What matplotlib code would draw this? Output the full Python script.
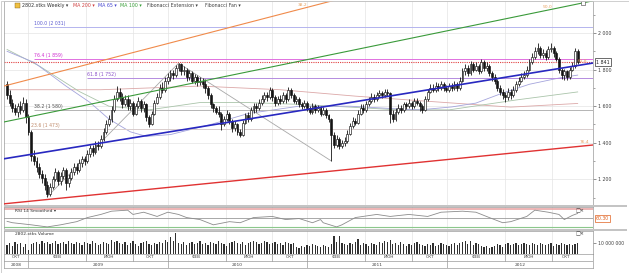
import matplotlib
matplotlib.use("Agg")
import matplotlib.pyplot as plt
import matplotlib.dates as mdates
from matplotlib.patches import Rectangle
import numpy as np
import pandas as pd

plt.rcParams["font.family"] = ["DejaVu Sans"]

# weekly candles of 2802.xtks, first week and OHLC
first_week = "2008-11-07"
opens = [1720,1660,1620,1590,1570,1600,1580,1620,1540,1460,
         1330,1300,1270,1230,1210,1170,1120,1160,1200,1240,
         1190,1220,1250,1180,1210,1240,1270,1250,1290,1310,
         1300,1340,1370,1350,1390,1380,1420,1460,1500,1530,
         1580,1640,1680,1650,1610,1640,1600,1620,1560,1600,
         1630,1590,1610,1540,1500,1560,1620,1650,1700,1690,
         1740,1760,1780,1770,1810,1830,1790,1800,1760,1780,
         1740,1760,1730,1740,1720,1700,1660,1610,1590,1570,
         1560,1500,1530,1560,1520,1480,1500,1460,1440,1510,
         1550,1530,1580,1600,1590,1620,1640,1660,1650,1690,
         1650,1620,1640,1630,1660,1640,1690,1660,1630,1640,
         1610,1600,1620,1590,1570,1600,1580,1590,1560,1580,
         1550,1530,1440,1390,1420,1380,1400,1410,1450,1490,
         1520,1510,1560,1590,1580,1610,1630,1650,1640,1660,
         1670,1660,1680,1670,1560,1530,1570,1590,1580,1610,
         1600,1620,1600,1630,1620,1600,1580,1640,1680,1700,
         1690,1710,1700,1720,1700,1690,1710,1700,1720,1700,
         1740,1790,1810,1780,1830,1800,1820,1790,1840,1810,
         1820,1780,1760,1740,1700,1680,1660,1650,1680,1660,
         1690,1720,1740,1760,1770,1800,1840,1870,1900,1920,
         1880,1890,1870,1910,1920,1890,1860,1800,1770,1790,
         1760,1800,1820,1900]
highs = [1740,1690,1640,1610,1620,1630,1650,1640,1560,1470,
         1360,1320,1290,1250,1230,1190,1180,1220,1262,1250,
         1240,1265,1260,1230,1260,1290,1290,1310,1330,1330,
         1360,1390,1390,1410,1410,1440,1480,1525,1550,1600,
         1660,1710,1700,1670,1660,1660,1640,1630,1620,1650,
         1640,1630,1620,1550,1575,1635,1670,1720,1730,1760,
         1780,1800,1800,1825,1835,1835,1820,1810,1800,1790,
         1775,1770,1760,1755,1750,1710,1670,1620,1600,1600,
         1570,1545,1580,1570,1530,1520,1510,1475,1525,1565,
         1570,1595,1620,1615,1640,1660,1680,1675,1705,1700,
         1660,1655,1660,1680,1670,1705,1700,1670,1655,1650,
         1625,1635,1630,1600,1615,1610,1605,1600,1595,1590,
         1560,1535,1460,1440,1430,1415,1430,1470,1510,1540,
         1535,1580,1610,1610,1630,1650,1670,1665,1680,1690,
         1685,1695,1695,1675,1580,1590,1610,1605,1625,1625,
         1640,1630,1645,1645,1630,1610,1655,1695,1720,1720,
         1730,1725,1740,1735,1715,1725,1725,1740,1735,1760,
         1810,1830,1825,1845,1840,1840,1830,1858,1850,1840,
         1830,1790,1775,1750,1715,1695,1675,1700,1695,1710,
         1740,1760,1780,1790,1820,1860,1890,1925,1945,1930,
         1915,1905,1930,1945,1930,1900,1870,1810,1805,1800,
         1815,1840,1918,1910]
lows = [1640,1600,1570,1550,1540,1560,1570,1510,1440,1300,
        1280,1240,1210,1180,1140,1105,1110,1150,1190,1170,
        1170,1200,1142,1160,1195,1225,1230,1240,1270,1280,
        1290,1320,1330,1340,1360,1370,1410,1450,1490,1515,
        1570,1630,1630,1590,1600,1580,1580,1545,1550,1590,
        1570,1570,1520,1486,1495,1550,1610,1640,1670,1680,
        1720,1740,1750,1760,1790,1770,1770,1740,1745,1725,
        1720,1710,1715,1700,1670,1640,1590,1570,1555,1540,
        1470,1490,1520,1500,1460,1465,1445,1432,1435,1500,
        1515,1520,1565,1570,1580,1605,1625,1630,1640,1630,
        1600,1605,1610,1620,1620,1630,1645,1615,1610,1595,
        1585,1590,1575,1555,1560,1565,1570,1545,1550,1535,
        1515,1301,1370,1375,1365,1370,1385,1400,1440,1480,
        1495,1500,1550,1565,1570,1600,1620,1625,1630,1650,
        1645,1650,1655,1510,1515,1520,1560,1565,1570,1585,
        1590,1585,1590,1605,1575,1563,1575,1630,1670,1675,
        1680,1685,1690,1685,1675,1680,1685,1690,1685,1690,
        1730,1770,1765,1770,1785,1790,1775,1780,1795,1795,
        1765,1740,1720,1685,1660,1640,1625,1635,1640,1650,
        1680,1710,1730,1750,1760,1790,1830,1860,1885,1865,
        1865,1855,1860,1895,1870,1845,1780,1750,1745,1745,
        1750,1790,1810,1830]
closes = [1660,1620,1590,1570,1600,1580,1620,1540,1460,1330,
          1300,1270,1230,1210,1170,1120,1160,1200,1240,1190,
          1220,1250,1180,1210,1240,1270,1250,1290,1310,1300,
          1340,1370,1350,1390,1380,1420,1460,1500,1530,1580,
          1640,1680,1650,1610,1640,1600,1620,1560,1600,1630,
          1590,1610,1540,1500,1560,1620,1650,1700,1690,1740,
          1760,1780,1770,1810,1830,1790,1800,1760,1780,1740,
          1760,1730,1740,1720,1700,1660,1610,1590,1570,1560,
          1500,1530,1560,1520,1480,1500,1460,1440,1510,1550,
          1530,1580,1600,1590,1620,1640,1660,1650,1690,1650,
          1620,1640,1630,1660,1640,1690,1660,1630,1640,1610,
          1600,1620,1590,1570,1600,1580,1590,1560,1580,1550,
          1530,1440,1390,1420,1380,1400,1410,1450,1490,1520,
          1510,1560,1590,1580,1610,1630,1650,1640,1660,1670,
          1660,1680,1670,1560,1530,1570,1590,1580,1610,1600,
          1620,1600,1630,1620,1600,1580,1640,1680,1700,1690,
          1710,1700,1720,1700,1690,1710,1700,1720,1700,1740,
          1790,1810,1780,1830,1800,1820,1790,1840,1810,1820,
          1780,1760,1740,1700,1680,1660,1650,1680,1660,1690,
          1720,1740,1760,1770,1800,1840,1870,1900,1920,1880,
          1890,1870,1910,1920,1890,1860,1800,1770,1790,1760,
          1800,1820,1900,1841]
# weekly volume, millions of shares
volumes = [8,10,7,11,9,10,6,9,4,9,
           10,11,9,12,10,11,9,10,12,9,
           10,11,9,12,10,9,11,10,8,11,
           10,9,12,10,8,9,11,10,9,13,
           11,12,10,9,11,8,10,12,9,7,
           10,11,12,9,8,10,9,11,10,13,
           11,15,12,19,10,9,11,8,10,11,
           9,10,12,9,10,8,11,10,9,12,
           10,9,7,10,11,12,10,9,11,8,
           10,11,12,11,9,10,12,11,9,10,
           11,9,10,8,11,10,9,10,6,5,
           7,6,8,7,9,8,7,6,8,7,
           6,9,16,11,16,10,9,8,10,9,
           11,14,8,10,9,7,10,9,8,11,
           10,12,11,13,9,10,8,11,9,7,
           9,8,10,11,9,8,7,9,8,10,
           7,8,10,9,8,7,9,10,8,10,
           11,12,9,12,8,10,9,7,6,7,
           5,6,7,9,8,6,9,10,8,9,
           10,8,9,10,9,8,10,9,8,10,
           9,8,9,10,7,9,8,10,9,8,
           9,8,9,10]

# moving averages read at a few weeks (week index, value)
ma200_idx = [0, 35, 72, 102, 130, 154, 188, 213]
ma200_val = [1690, 1690, 1710, 1690, 1655, 1630, 1595, 1615]
ma65_idx = [0, 10, 22, 31, 38, 46, 52, 61, 76, 90, 109, 128, 146, 154, 166, 175, 185, 195, 206, 213]
ma65_val = [1900, 1840, 1710, 1620, 1530, 1460, 1435, 1445, 1500, 1560, 1600, 1600, 1585, 1580, 1596, 1617, 1672, 1720, 1754, 1770]
ma100_idx = [0, 12, 27, 38, 53, 72, 90, 109, 128, 146, 165, 190, 213]
ma100_val = [1910, 1820, 1680, 1600, 1580, 1620, 1620, 1610, 1595, 1580, 1580, 1634, 1678]

# RSI 14 smoothed (week index, value)
rsi_idx = [0, 2, 9, 15, 20, 26, 30, 35, 39, 45, 47, 51, 56, 60, 64, 67, 72, 77, 83, 87,
           92, 99, 104, 109, 114, 117, 118, 123, 125, 130, 138, 143, 150, 157, 162, 170,
           175, 180, 185, 188, 194, 197, 202, 206, 208, 211, 213]
rsi_val = [42.5, 39.4, 34.7, 30, 34.7, 41.8, 51, 58, 65.3, 67.6, 58, 63, 53.5, 63, 58, 51,
           46.5, 34.7, 41.8, 39.4, 51, 53.5, 46.5, 48.8, 39.4, 46.5, 39.4, 30, 34.7, 51, 58,
           53.5, 58, 53.5, 63, 65.3, 63, 51, 39.4, 41.8, 53.5, 67.6, 63, 58, 46.5, 55.8, 60.3]

# Fibonacci extension (A low, B high, C low) and its levels
fib_points = [15, 64, 121]
fib_ratios = ["23.6", "38.2", "61.8", "76.4", "100.0"]
fib_prices = [1473, 1580, 1752, 1859, 2031]
fib_start = [9, 10, 30, 10, 10]
fib_colors = ["#d8cccc", "#b4b4b4", "#b48ce0", "#e070e0", "#b4b4ee"]
fib_text = ["#c08a6a", "#505050", "#8a50c8", "#d030d0", "#5a5ad0"]

# Fibonacci fan: price of each ray at two dates
fan_ratios = ["38.2", "50.0", "61.8", "76.4"]
fan_dates = ["2008-10-28", "2013-01-16"]
fan_p0 = [1709, 1513, 1312, 1066]
fan_p1 = [2546, 2176, 1836, 1388]
fan_colors = ["#f08a4a", "#3a9a3a", "#2828c0", "#e03232"]
fan_widths = [0.8, 0.8, 1.2, 1.0]
fan_label_dates = ["2010-12-20", "2012-09-20", "2012-12-21", "2012-12-24"]

last_price = 1841
last_rsi = "60.30"

W, H = 629, 273
def box(x0, y0, x1, y1):
    return [x0 / W, 1 - y1 / H, (x1 - x0) / W, (y1 - y0) / H]

def fmt(v):
    return f"{v:,.0f}".replace(",", " ")

dates = pd.date_range(first_week, periods=len(closes), freq="7D")
xs = mdates.date2num(dates)
x0 = mdates.date2num(pd.Timestamp("2008-10-30"))
x1 = mdates.date2num(pd.Timestamp("2013-01-16"))

fig = plt.figure(figsize=(6.29, 2.73), dpi=100)
ax = fig.add_axes(box(4, 1, 593, 205))
ax_rsi = fig.add_axes(box(4, 207, 593, 229))
ax_vol = fig.add_axes(box(4, 231, 593, 254))
ax_t = fig.add_axes(box(4, 254, 593, 268))

for y0, y1 in [(205, 207), (229, 231)]:
    fig.add_artist(Rectangle((4 / W, 1 - y1 / H), 623 / W, (y1 - y0) / H,
                             transform=fig.transFigure, color="#c4c4c4", lw=0))
fig.add_artist(Rectangle((0.5 / W, 0.5 / H), 1 - 1 / W, 1 - 1 / H, transform=fig.transFigure,
                         fill=False, edgecolor="#c8c8c8", lw=0.6))

# separators: Jan, Jun, Oct
years = [2009, 2010, 2011, 2012]
year_x = [mdates.date2num(pd.Timestamp(f"{y}-01-01")) for y in years]
month_x = []
for y in years:
    month_x += [mdates.date2num(pd.Timestamp(f"{y}-06-01")), mdates.date2num(pd.Timestamp(f"{y}-10-01"))]

for a in [ax, ax_rsi, ax_vol, ax_t]:
    a.set_xlim(x0, x1)
    a.tick_params(bottom=False, labelbottom=False, left=False, labelleft=False)
    for s in a.spines.values():
        s.set_color("#9a9a9a")
        s.set_linewidth(0.5)
for a in [ax, ax_rsi, ax_vol]:
    for gx in year_x + month_x:
        a.axvline(gx, color="#e4e4e4", lw=0.5, zorder=0)

# main panel
ax.set_ylim(1060, 2175)
price_ticks = [1200, 1400, 1600, 1800, 2000]
for p in price_ticks:
    ax.axhline(p, color="#e4e4e4", lw=0.5, zorder=0)
ax.yaxis.tick_right()
ax.set_yticks(price_ticks)
ax.set_yticklabels([fmt(p) for p in price_ticks])
ax.set_yticks(range(1100, 2175, 100), minor=True)
ax.tick_params(axis="y", which="major", right=True, labelright=True, labelsize=3.4,
               length=2, width=0.4, pad=1.5, colors="#404040")
ax.tick_params(axis="y", which="minor", right=True, length=1.2, width=0.4, colors="#606060")

ax.plot(xs[ma200_idx], ma200_val, color="#dca8a8", lw=0.6, zorder=1)
ax.plot(xs[ma100_idx], ma100_val, color="#aac4aa", lw=0.6, zorder=1)
ax.plot(xs[ma65_idx], ma65_val, color="#a4a4dc", lw=0.6, zorder=1)

for r, p, st, c, tc in zip(fib_ratios, fib_prices, fib_start, fib_colors, fib_text):
    ax.hlines(p, xs[st], x1, color=c, lw=0.7, zorder=1)
    ax.text(xs[st], p + 6, f"{r} ({fmt(p)})", fontsize=3.3, color=tc, va="bottom", ha="left")
ax.plot(xs[fib_points], [lows[fib_points[0]], highs[fib_points[1]], lows[fib_points[2]]],
        color="#a8a8a8", lw=0.6, zorder=2)

ax.axhline(last_price, color="#e04040", lw=0.8, ls=(0, (1, 1)), zorder=2)

up = [c >= o for o, c in zip(opens, closes)]
ax.vlines(xs, lows, highs, color="#141414", lw=0.6, zorder=3)
ax.bar(xs, [max(abs(c - o), 5) for o, c in zip(opens, closes)],
       bottom=[min(o, c) for o, c in zip(opens, closes)], width=5,
       color=["white" if u else "#141414" for u in up], edgecolor="#141414", lw=0.45, zorder=3)

fd = mdates.date2num(pd.to_datetime(fan_dates))
for r, p0, p1, c, w, ld in zip(fan_ratios, fan_p0, fan_p1, fan_colors, fan_widths, fan_label_dates):
    ax.plot(fd, [p0, p1], color=c, lw=w, zorder=4)
    lx = mdates.date2num(pd.Timestamp(ld))
    ly = p0 + (p1 - p0) * (lx - fd[0]) / (fd[1] - fd[0])
    ax.text(lx, ly + 8, r, fontsize=3.2, color="#e8a060", ha="center", va="bottom", zorder=5)
gx = mdates.date2num(pd.Timestamp(fan_label_dates[2]))
gy = fan_p0[1] + (fan_p1[1] - fan_p0[1]) * (gx - fd[0]) / (fd[1] - fd[0])
ax.plot([gx], [gy], marker="s", ms=2.5, mfc="white", mec="#404040", mew=0.4, zorder=5)

ax.annotate(fmt(last_price), xy=(1, last_price), xycoords=("axes fraction", "data"),
            xytext=(2.2, 0), textcoords="offset points", fontsize=3.4, va="center", ha="left",
            color="#202020", bbox=dict(boxstyle="square,pad=0.25", fc="white", ec="#303030", lw=0.5))

# header
hy = 0.98
ax.add_patch(Rectangle(((15 - 4) / 589, 0.965), 5 / 589, 5 / 204, transform=ax.transAxes,
                       fc="#f0c040", ec="#806020", lw=0.3, zorder=6))
header = [(22, "2802.xtks Weekly \u25be", "#303030"), (73, "MA 200 \u25be", "#d04040"),
          (98, "MA 65 \u25be", "#4848d0"), (120, "MA 100 \u25be", "#3aa03a"),
          (147, "Fibonacci Extension \u25be", "#404040"), (205, "Fibonacci Fan \u25be", "#404040")]
for hx, txt, c in header:
    ax.text((hx - 4) / 589, hy, txt, transform=ax.transAxes, fontsize=3.4, color=c,
            va="center", ha="left", zorder=6)

# RSI panel
ax_rsi.set_ylim(25.3, 74.7)
ax_rsi.axhline(70, color="#eaa8a8", lw=1.2, zorder=1)
ax_rsi.axhline(50, color="#9a9a9a", lw=0.6, zorder=1)
ax_rsi.axhline(30, color="#8cc88c", lw=0.8, zorder=1)
ax_rsi.plot(xs[rsi_idx], rsi_val, color="#8c8c8c", lw=0.6, zorder=2)
ax_rsi.text(11 / 589, 0.82, "RSI 14 Smoothed \u25be", transform=ax_rsi.transAxes,
            fontsize=3.2, color="#303030", va="center")
ax_rsi.text(0.985, 0.84, "\u25a1\u00d7", transform=ax_rsi.transAxes, fontsize=3.6,
            color="#303030", va="center", ha="right")
ax_rsi.annotate(last_rsi, xy=(1, 0.47), xycoords="axes fraction", xytext=(2.2, 0),
                textcoords="offset points", fontsize=3.3, va="center", ha="left", color="#e0601e",
                bbox=dict(boxstyle="square,pad=0.25", fc="white", ec="#e0601e", lw=0.5))

# volume panel
ax_vol.bar(xs, volumes, width=3.2, color="#303030", zorder=2)
ax_vol.set_ylim(0, 20.9)
ax_vol.yaxis.tick_right()
ax_vol.set_yticks([10])
ax_vol.set_yticklabels(["10 000 000"])
ax_vol.tick_params(axis="y", right=True, labelright=True, labelsize=3.3, length=2,
                   width=0.4, pad=1.5, colors="#404040")
ax_vol.text(11 / 589, 0.87, "2802.xtks Volume", transform=ax_vol.transAxes,
            fontsize=3.2, color="#303030", va="center")
ax_vol.text(0.985, 0.87, "\u25a1\u00d7", transform=ax_vol.transAxes, fontsize=3.6,
            color="#303030", va="center", ha="right")

# time axis
ax_t.set_ylim(0, 1)
ax_t.axhline(0.5, color="#9a9a9a", lw=0.5)
for gx in year_x:
    ax_t.axvline(gx, color="#9a9a9a", lw=0.5)
for gx in month_x:
    ax_t.axvline(gx, 0.5, 1, color="#9a9a9a", lw=0.5)
data_end = xs[-1] + 7
bounds = sorted([x0] + year_x + month_x)
labels = ["ОКТ"] + ["ФЕВ", "ИЮН", "ОКТ"] * 4
ends = bounds[1:] + [data_end]
for a, b, lab in zip(bounds, ends, labels):
    ax_t.text((a + b) / 2, 0.75, lab, fontsize=3.0, color="#404040", ha="center", va="center")
ybounds = [x0] + year_x
yends = year_x + [x1]
for a, b, lab in zip(ybounds, yends, ["2008"] + [str(y) for y in years]):
    ax_t.text((a + b) / 2, 0.25, lab, fontsize=3.2, color="#404040", ha="center", va="center")

fig.savefig("out.png", dpi=100)
